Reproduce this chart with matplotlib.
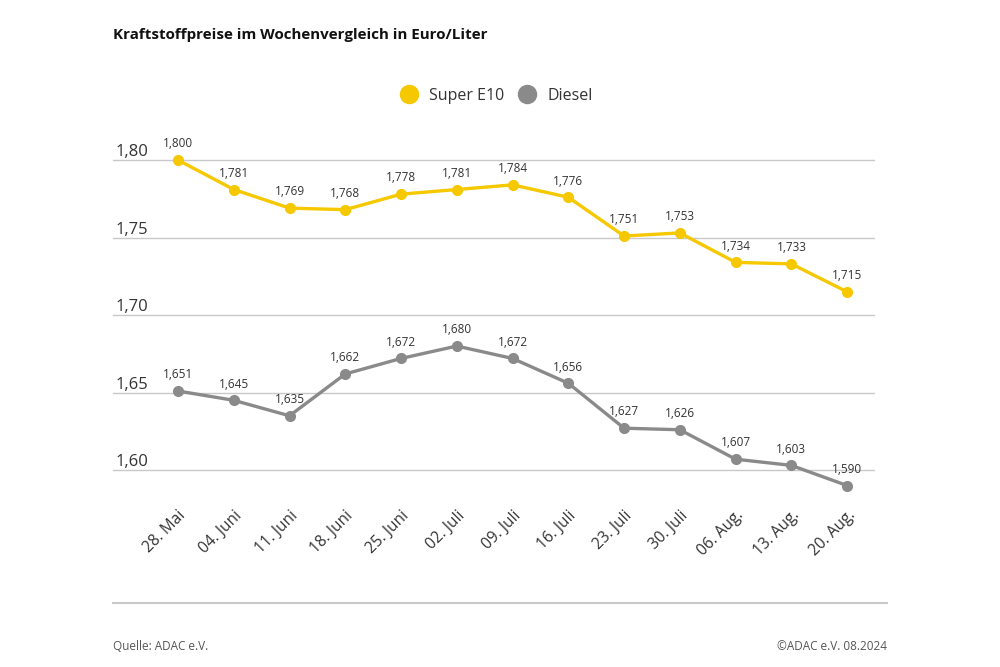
import matplotlib.pyplot as plt
from matplotlib.lines import Line2D
import matplotlib.transforms as mtransforms

plt.rcParams['font.family'] = ['Open Sans', 'DejaVu Sans']

# data
dates = ['28. Mai', '04. Juni', '11. Juni', '18. Juni', '25. Juni', '02. Juli', '09. Juli',
         '16. Juli', '23. Juli', '30. Juli', '06. Aug.', '13. Aug.', '20. Aug.']
super_e10 = [1.800, 1.781, 1.769, 1.768, 1.778, 1.781, 1.784, 1.776, 1.751, 1.753, 1.734, 1.733, 1.715]
diesel = [1.651, 1.645, 1.635, 1.662, 1.672, 1.680, 1.672, 1.656, 1.627, 1.626, 1.607, 1.603, 1.590]
yticks = [1.60, 1.65, 1.70, 1.75, 1.80]

yellow = '#F6C800'
grey = '#8A8A8A'
text_col = '#333333'

fig = plt.figure(figsize=(10, 6.67), dpi=100)
W, H = 1000, 667
# axes in pixel coords: left 113, right 875, top 130, bottom 495
ax = fig.add_axes([113 / W, 1 - 495 / H, (875 - 113) / W, (495 - 130) / H])

x = list(range(len(dates)))
ax.plot(x, super_e10, color=yellow, lw=2.4, marker='o', ms=7, zorder=3)
ax.plot(x, diesel, color=grey, lw=2.4, marker='o', ms=7, zorder=3)

for xi, v in zip(x, super_e10):
    ax.annotate(f'{v:.3f}'.replace('.', ','), (xi, v), xytext=(0, 7), textcoords='offset points',
                ha='center', va='bottom', fontsize=8.5, color=text_col)
for xi, v in zip(x, diesel):
    ax.annotate(f'{v:.3f}'.replace('.', ','), (xi, v), xytext=(0, 7), textcoords='offset points',
                ha='center', va='bottom', fontsize=8.5, color=text_col)

ax.set_xlim(-1.166, 12.5)
ax.set_ylim(1.5839, 1.8194)

for s in ax.spines.values():
    s.set_visible(False)
ax.set_yticks(yticks)
ax.set_yticklabels([])
ax.tick_params(axis='y', length=0)
ax.grid(axis='y', color='#c8c8c8', lw=1)
ax.set_axisbelow(True)

trans = mtransforms.blended_transform_factory(ax.transAxes, ax.transData)
for t in yticks:
    ax.text(0.003, t, f'{t:.2f}'.replace('.', ','), transform=trans, ha='left', va='bottom',
            fontsize=12, color=text_col)

ax.set_xticks(x)
ax.set_xticklabels(dates, rotation=45, ha='right', rotation_mode='anchor', fontsize=11.2, color=text_col)
ax.tick_params(axis='x', length=0, pad=9)

# legend
handles = [Line2D([], [], ls='none', marker='o', ms=13, color=yellow),
           Line2D([], [], ls='none', marker='o', ms=13, color=grey)]
fig.legend(handles, ['Super E10', 'Diesel'], loc='center', bbox_to_anchor=(0.493, 1 - 96 / H),
           ncol=2, frameon=False, fontsize=11.5, handletextpad=0.3, columnspacing=0.4,
           labelcolor=text_col)

fig.text(113 / W, 1 - 35 / H, 'Kraftstoffpreise im Wochenvergleich in Euro/Liter', ha='left', va='center',
         fontsize=10.9, fontweight='bold', color='#111111')

fig.add_artist(Line2D([113 / W, 887 / W], [1 - 603 / H, 1 - 603 / H], color='#c8c8c8', lw=1.5))
fig.text(113 / W, 1 - 646 / H, 'Quelle: ADAC e.V.', ha='left', va='center', fontsize=8.5, color='#555555')
fig.text(887 / W, 1 - 646 / H, '©ADAC e.V. 08.2024', ha='right', va='center', fontsize=8.5, color='#555555')

fig.savefig('out.png', dpi=100, facecolor='white')
